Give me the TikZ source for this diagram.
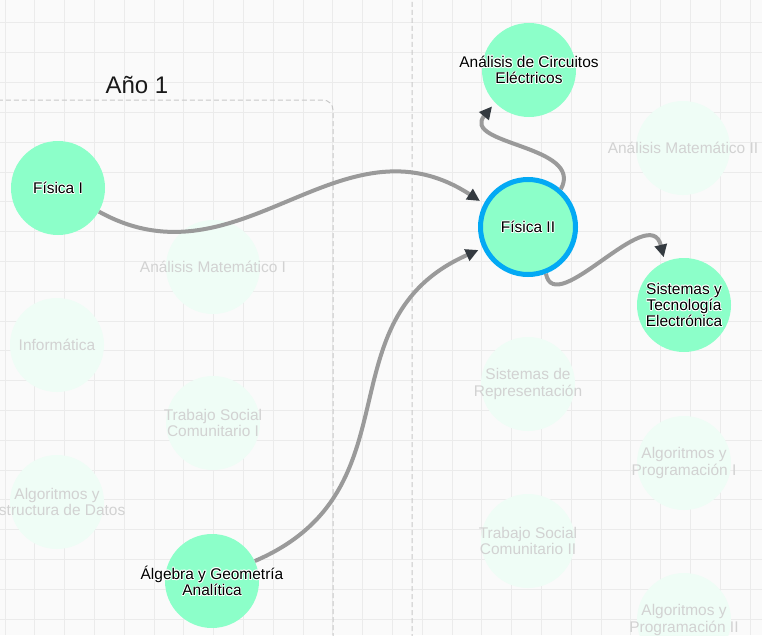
\documentclass[tikz,border=0pt]{standalone}
\usepackage{fontspec}
\setmainfont{Liberation Sans}
\usetikzlibrary{arrows.meta}
\definecolor{bgc}{HTML}{FAFAFA}
\definecolor{gridc}{HTML}{EBEBEB}
\definecolor{nodec}{HTML}{8CFFC9}
\definecolor{fadec}{HTML}{EFFDF6}
\definecolor{fadet}{HTML}{D2D2D2}
\definecolor{edgec}{HTML}{9A9A9A}
\definecolor{arrowc}{HTML}{343A40}
\definecolor{bluec}{HTML}{03A9F4}
\definecolor{dashc}{HTML}{C8C8C8}
\newcommand\hc[3]{\rlap{\kern#1\raisebox{#2}{\textcolor{white}{#3}}}}
\newcommand\halo[1]{\leavevmode\hc{0.6pt}{0pt}{#1}\hc{-0.6pt}{0pt}{#1}\hc{0pt}{0.6pt}{#1}\hc{0pt}{-0.6pt}{#1}\hc{0.45pt}{0.45pt}{#1}\hc{-0.45pt}{0.45pt}{#1}\hc{0.45pt}{-0.45pt}{#1}\hc{-0.45pt}{-0.45pt}{#1}#1}
\tikzset{
  gridline/.style={draw=gridc, line width=0.75pt},
  dashbox/.style={draw=dashc, line width=0.75pt, dash pattern=on 3.75pt off 2.25pt, rounded corners=7.5pt},
  course/.style={circle, fill=nodec, draw=none, minimum size=70.5pt, inner sep=0pt},
  current/.style={circle, fill=nodec, draw=bluec, line width=3.75pt, minimum size=71.25pt, inner sep=0pt},
  faded/.style={circle, fill=fadec, draw=none, minimum size=70.5pt, inner sep=0pt},
  lbl/.style={align=center, inner sep=0pt, text=black, font=\fontsize{11.6pt}{12.3pt}\selectfont},
  fadelbl/.style={align=center, inner sep=0pt, text=fadet, font=\fontsize{11.6pt}{12.3pt}\selectfont},
  edge/.style={draw=edgec, line width=3pt, shorten >=3.5pt, -{Triangle[length=9.5pt, width=9pt, color=arrowc]}},
}
\begin{document}
\begin{tikzpicture}[x=0.75pt, y=-0.75pt]
\useasboundingbox (0,0) rectangle (762,635);
\fill[bgc] (0,0) rectangle (762,635);
\clip (0,0) rectangle (762,635);
\foreach \i in {0,...,25} \draw[gridline] (5+29.8*\i,0) -- (5+29.8*\i,635);
\foreach \i in {0,...,21} \draw[gridline] (0,23+29.8*\i) -- (762,23+29.8*\i);
\draw[dashbox] (-40,100) rectangle (333,700);
\draw[dashbox] (412,-40) rectangle (800,700);
\node[font=\fontsize{18pt}{20pt}\selectfont, text=black!90, inner sep=0pt] (year1) at (137,85) {Año 1};
% faded courses
\node[faded] (am1) at (213,267) {};
\node[fadelbl] (am1-t) at (am1) {Análisis Matemático I};
\node[faded] (inf) at (57,345) {};
\node[fadelbl] (inf-t) at (inf) {Informática};
\node[faded] (tsc1) at (213,423) {};
\node[fadelbl] (tsc1-t) at (tsc1) {Trabajo Social\\Comunitario I};
\node[faded] (aed) at (57,502) {};
\node[fadelbl] (aed-t) at (aed) {Algoritmos y\\Estructura de Datos};
\node[faded] (am2) at (683,148) {};
\node[fadelbl] (am2-t) at (am2) {Análisis Matemático II};
\node[faded] (sdr) at (528,384) {};
\node[fadelbl] (sdr-t) at (sdr) {Sistemas de\\Representación};
\node[faded] (ap1) at (684,463) {};
\node[fadelbl] (ap1-t) at (ap1) {Algoritmos y\\Programación I};
\node[faded] (tsc2) at (528,541) {};
\node[fadelbl] (tsc2-t) at (tsc2) {Trabajo Social\\Comunitario II};
\node[faded] (ap2) at (684,620) {};
\node[fadelbl] (ap2-t) at (ap2) {Algoritmos y\\Programación II};
% active courses
\node[course] (fis1) at (58,188) {};
\node[course] (alg) at (212,581) {};
\node[course] (aec) at (529,70) {};
\node[current] (fis2) at (528,227) {};
\node[course] (ste) at (684,305) {};
% connectors
\draw[edge] (fis1.-30) .. controls (240,290) and (340,110) .. (fis2.152);
\draw[edge] (alg.25) .. controls (420,490) and (320,320) .. (fis2.-155);
\draw[edge] (fis2.49) .. controls (585,145) and (460,145) .. (aec.-136);
\draw[edge] (fis2.-69) .. controls (555,320) and (650,200) .. (ste.114);
% labels
\node[lbl] (fis1-t) at (fis1) {\halo{Física I}};
\node[lbl] (alg-t) at (alg) {\halo{Álgebra y Geometría}\\\halo{Analítica}};
\node[lbl] (aec-t) at (aec) {\halo{Análisis de Circuitos}\\\halo{Eléctricos}};
\node[lbl] (fis2-t) at (fis2) {\halo{Física II}};
\node[lbl] (ste-t) at (ste) {\halo{Sistemas y}\\\halo{Tecnología}\\\halo{Electrónica}};
\end{tikzpicture}
\end{document}
